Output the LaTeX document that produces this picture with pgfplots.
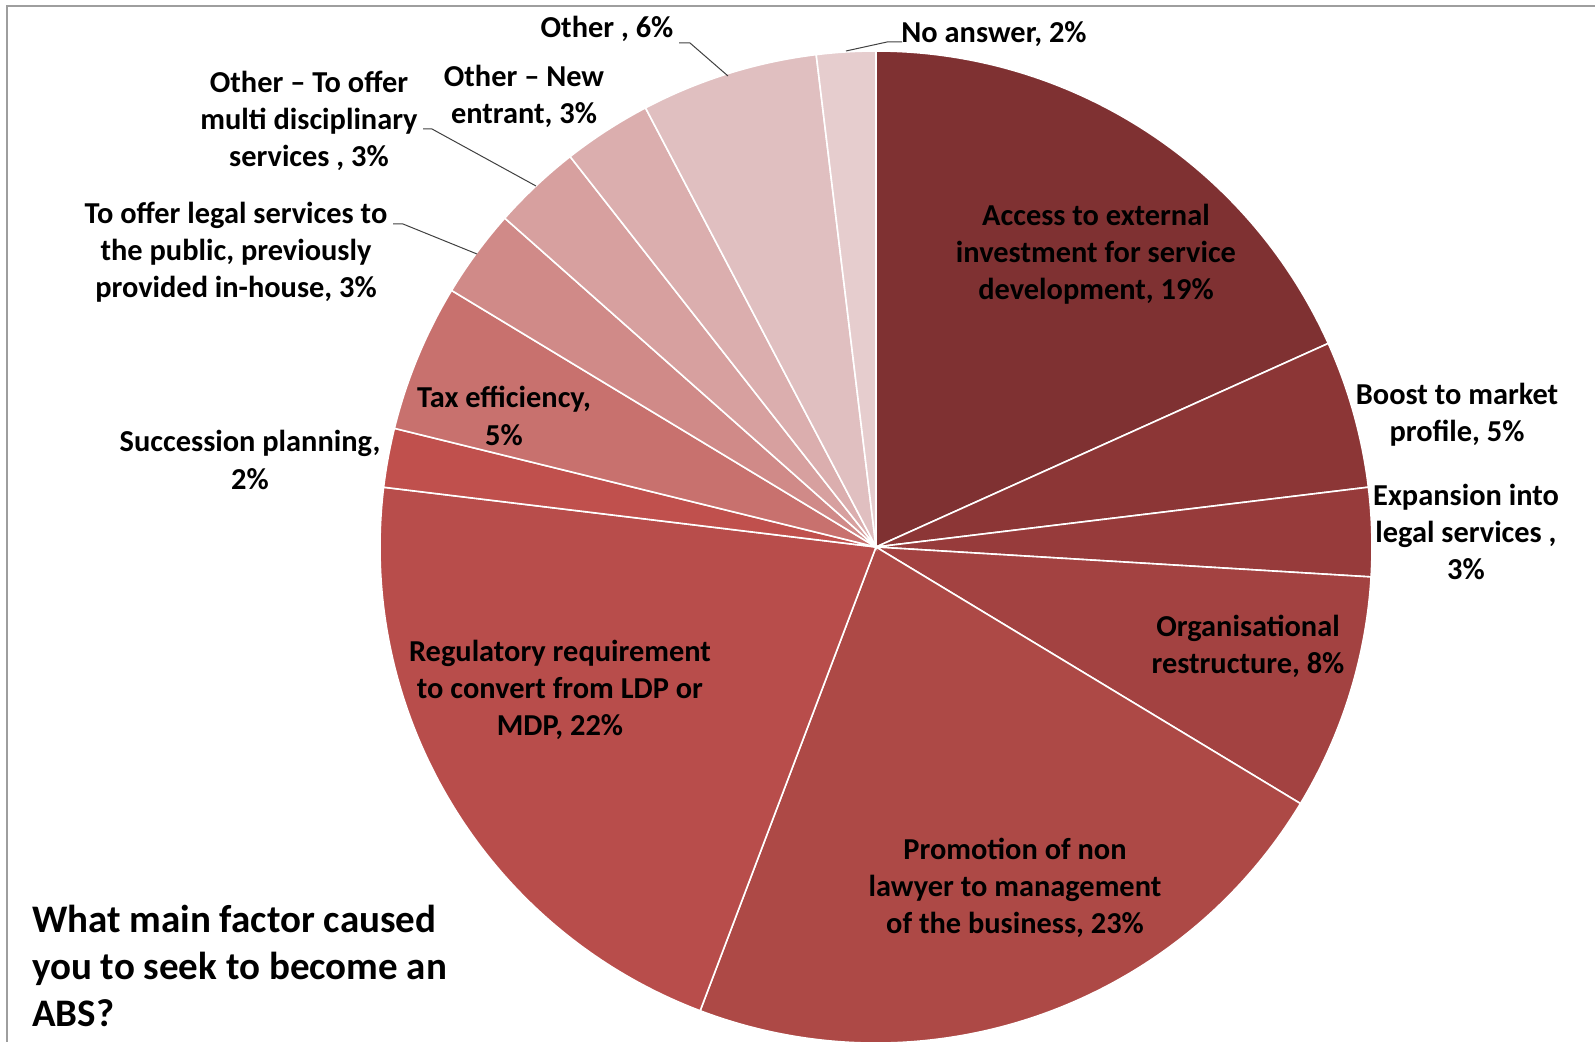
\documentclass[border=0pt]{standalone}
\usepackage{pgfplots}
\usepackage{pgfplotstable}
\pgfplotsset{compat=1.18}
\usepackage{fontspec}
\setmainfont{Carlito}
\definecolor{c0}{HTML}{7F3132}
\definecolor{c1}{HTML}{8C3636}
\definecolor{c2}{HTML}{973B3B}
\definecolor{c3}{HTML}{A34241}
\definecolor{c4}{HTML}{AD4946}
\definecolor{c5}{HTML}{B84D4B}
\definecolor{c6}{HTML}{C0504D}
\definecolor{c7}{HTML}{C8716E}
\definecolor{c8}{HTML}{D08A88}
\definecolor{c9}{HTML}{D7A09F}
\definecolor{c10}{HTML}{DBAEAE}
\definecolor{c11}{HTML}{E0BFC0}
\definecolor{c12}{HTML}{E6CDCE}
\pgfplotstableread{
value
19
5
3
8
23
22
2
5
3
3
3
6
2
}\piedata
\newcommand\labfont{\fontsize{15.2pt}{18.6pt}\selectfont\bfseries}
\begin{document}
\begin{tikzpicture}
\begin{axis}[at={(0,0)}, anchor=south west, width=797.5pt, height=521pt, scale only axis,
  xmin=0, xmax=1595, ymin=0, ymax=1042, y dir=reverse, hide axis, clip=true]
\def\total{0}
\pgfplotsforeachungrouped \i in {0,...,12}{%
  \pgfplotstablegetelem{\i}{value}\of\piedata
  \pgfmathsetmacro{\total}{\total+\pgfplotsretval}%
}
\def\cum{0}
\pgfplotsforeachungrouped \i in {0,...,12}{%
  \pgfplotstablegetelem{\i}{value}\of\piedata
  \pgfmathsetmacro{\a}{90-\cum/\total*360}%
  \pgfmathsetmacro{\cum}{\cum+\pgfplotsretval}%
  \pgfmathsetmacro{\b}{90-\cum/\total*360}%
  \edef\slice{\noexpand\fill[c\i, draw=white, line width=0.8pt] (axis cs:876,547) -- ++(\a:248pt) arc[start angle=\a, end angle=\b, radius=248pt] -- cycle;}%
  \slice
}
% frame
\draw[black!38, line width=1pt] (axis cs:7,1060) -- (axis cs:7,6) -- (axis cs:1610,6);
% leader lines
\draw[black!75, line width=0.5pt] (axis cs:679,43) -- (axis cs:690,43) -- (axis cs:728,76);
\draw[black!75, line width=0.5pt] (axis cs:902,42) -- (axis cs:887,42) -- (axis cs:846,51);
\draw[black!75, line width=0.5pt] (axis cs:423,129) -- (axis cs:432,129) -- (axis cs:536,186);
\draw[black!75, line width=0.5pt] (axis cs:393,224) -- (axis cs:403,224) -- (axis cs:477,254);
% labels
\node[align=center, font=\labfont] at (axis cs:1096,254) {Access to external\\investment for service\\development, 19\%};
\node[align=center, font=\labfont] at (axis cs:1457,415) {Boost to market\\profile, 5\%};
\node[align=center, font=\labfont] at (axis cs:1466,532) {Expansion into\\legal services ,\\3\%};
\node[align=center, font=\labfont] at (axis cs:1248,646) {Organisational\\restructure, 8\%};
\node[align=center, font=\labfont] at (axis cs:1015,888) {Promotion of non\\lawyer to management\\of the business, 23\%};
\node[align=center, font=\labfont] at (axis cs:560,690) {Regulatory requirement\\to convert from LDP or\\MDP, 22\%};
\node[align=center, font=\labfont] at (axis cs:250,460) {Succession planning,\\2\%};
\node[align=center, font=\labfont] at (axis cs:504,416) {Tax efficiency,\\5\%};
\node[align=center, font=\labfont] at (axis cs:236,252) {To offer legal services to\\the public, previously\\provided in-house, 3\%};
\node[align=center, font=\labfont] at (axis cs:309,121) {Other -- To offer\\multi disciplinary\\services , 3\%};
\node[align=center, font=\labfont] at (axis cs:524,96) {Other -- New\\entrant, 3\%};
\node[align=center, font=\labfont] at (axis cs:607,29) {Other , 6\%};
\node[align=center, font=\labfont] at (axis cs:994,34) {No answer, 2\%};
\node[align=left, anchor=west, font=\fontsize{19.5pt}{23.5pt}\selectfont\bfseries] at (axis cs:25,966) {What main factor caused\\you to seek to become an\\ABS?};
\end{axis}
\pgfresetboundingbox
\path (0,0) rectangle (797.5pt,521pt);
\end{tikzpicture}
\end{document}
